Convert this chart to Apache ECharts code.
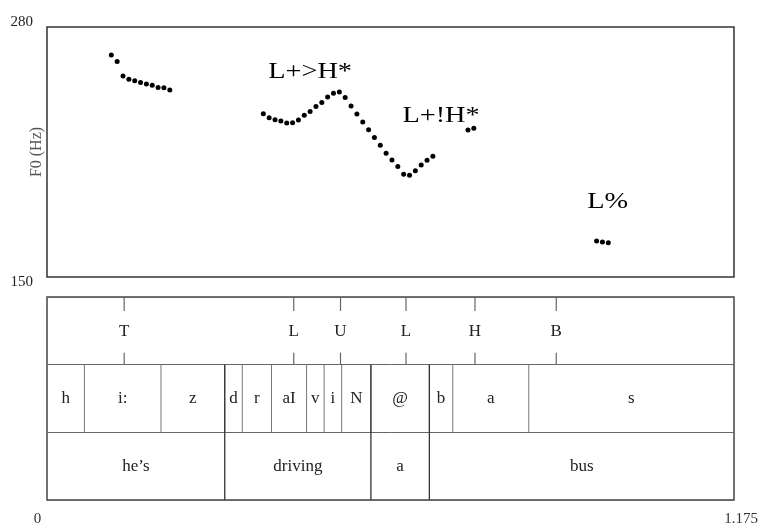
<!DOCTYPE html>
<html>
<head>
<meta charset="utf-8">
<script src="https://cdn.jsdelivr.net/npm/echarts@6/dist/echarts.min.js"></script>
<style>
  html, body { margin: 0; padding: 0; background: #fff; }
  #main { width: 760px; height: 524px; }
</style>
</head>
<body>
<div id="main"></div>
<script>
// F0 track, 10 ms frames (s / Hz)
const f0Time = [
  0.11, 0.12, 0.13, 0.14, 0.15, 0.16, 0.17, 0.18, 0.19, 0.20, 0.21,
  0.37, 0.38, 0.39, 0.40, 0.41, 0.42, 0.43, 0.44, 0.45, 0.46, 0.47, 0.48, 0.49, 0.50,
  0.51, 0.52, 0.53, 0.54, 0.55, 0.56, 0.57, 0.58, 0.59, 0.60, 0.61, 0.62, 0.63, 0.64, 0.65, 0.66,
  0.72, 0.73,
  0.94, 0.95, 0.96
];
const f0Hz = [
  265.4, 262.1, 254.5, 252.8, 252.1, 251.1, 250.4, 249.7, 248.5, 248.4, 247.2,
  234.9, 232.8, 231.8, 231.1, 230.1, 230.2, 231.6, 234.1, 236.0, 238.6, 240.8, 243.6, 245.5, 246.2,
  243.3, 238.9, 234.8, 230.6, 226.6, 222.6, 218.5, 214.3, 210.8, 207.4, 203.4, 202.9, 205.3, 208.2, 210.7, 212.8,
  226.4, 227.3,
  168.7, 168.2, 167.8
];

// pitch accent annotations
const accentLabels = ['L+>H*', 'L+!H*', 'L%'];
const accentTime = [0.45, 0.674, 0.959];
const accentHz = [256.5, 234, 189];

// tiers
const toneLabels = ['T', 'L', 'U', 'L', 'H', 'B'];
const toneTimes = [0.132, 0.422, 0.502, 0.614, 0.732, 0.871];

const phoneLabels = ['h', 'i:', 'z', 'd', 'r', 'aI', 'v', 'i', 'N', '@', 'b', 'a', 's'];
const phoneBounds = [0, 0.064, 0.195, 0.304, 0.334, 0.384, 0.444, 0.474, 0.504, 0.554, 0.654, 0.694, 0.824, 1.175];

const wordLabels = ['he’s', 'driving', 'a', 'bus'];
const wordBounds = [0, 0.304, 0.554, 0.654, 1.175];

// axis ends
const tMin = 0, tMax = 1.175;
const hzMin = 150, hzMax = 280;

const SERIF = '"Liberation Serif", "DejaVu Serif", serif';

const chart = echarts.init(document.getElementById('main'), null, { renderer: 'canvas' });

function txt(x, y, s, size, color) {
  return {
    type: 'text', x: x, y: y,
    style: { text: s, fontSize: size, fontFamily: SERIF, fill: color, align: 'center', verticalAlign: 'middle' }
  };
}

function vline(x, y1, y2, color, w) {
  return { type: 'line', shape: { x1: x, y1: y1, x2: x, y2: y2 }, style: { stroke: color, lineWidth: w } };
}

const option = {
  backgroundColor: '#ffffff',
  animation: false,
  grid: [
    { left: 47, top: 27, width: 687, height: 250, outerBoundsMode: 'none', show: true, borderColor: '#333', borderWidth: 1.5 },
    { left: 47, top: 297, width: 687, height: 203, outerBoundsMode: 'none', show: true, borderColor: '#444', borderWidth: 1.5 }
  ],
  xAxis: [
    {
      gridIndex: 0, type: 'value', min: tMin, max: tMax,
      axisLine: { show: false }, axisTick: { show: false }, axisLabel: { show: false }, splitLine: { show: false }
    },
    {
      gridIndex: 1, type: 'value', min: tMin, max: tMax, interval: tMax,
      axisLine: { show: false }, axisTick: { show: false }, splitLine: { show: false },
      axisLabel: {
        margin: 12, fontSize: 15, fontFamily: SERIF, color: '#333',
        formatter: function (v) { return v === 0 ? '{l|0}' : '{r|1.175}'; },
        rich: {
          l: { padding: [0, 19, 0, 0], fontSize: 15, fontFamily: SERIF, color: '#333' },
          r: { padding: [0, 0, 0, 14], fontSize: 15, fontFamily: SERIF, color: '#333' }
        }
      }
    }
  ],
  yAxis: [
    {
      gridIndex: 0, type: 'value', min: hzMin, max: hzMax, interval: hzMax - hzMin,
      name: 'F0 (Hz)', nameLocation: 'middle', nameGap: 2, nameMoveOverlap: false,
      nameTextStyle: { fontSize: 16, fontFamily: SERIF, color: '#555' },
      axisLine: { show: false }, axisTick: { show: false }, splitLine: { show: false },
      axisLabel: {
        margin: 14,
        formatter: function (v) { return v === hzMax ? '{t|280}' : '{b|150}'; },
        rich: {
          t: { padding: [0, 0, 10, 0], fontSize: 15, fontFamily: SERIF, color: '#222' },
          b: { padding: [10, 0, 0, 0], fontSize: 15, fontFamily: SERIF, color: '#222' }
        }
      }
    },
    {
      gridIndex: 1, type: 'value', min: 0, max: 3, interval: 1,
      axisLine: { show: false }, axisTick: { show: false }, axisLabel: { show: false },
      splitLine: { show: true, lineStyle: { color: '#666', width: 1 } }
    }
  ],
  series: [
    {
      type: 'scatter', xAxisIndex: 0, yAxisIndex: 0, silent: true,
      symbol: 'circle', symbolSize: 5,
      itemStyle: { color: '#000', opacity: 1 },
      data: f0Time.map(function (t, i) { return [t, f0Hz[i]]; })
    },
    {
      type: 'custom', xAxisIndex: 0, yAxisIndex: 0, silent: true,
      data: accentTime.map(function (t, i) { return [t, accentHz[i]]; }),
      renderItem: function (params, api) {
        const p = api.coord([api.value(0), api.value(1)]);
        const el = txt(p[0], p[1], accentLabels[params.dataIndex], 24, '#000');
        el.scaleX = 1.18;
        return el;
      }
    },
    {
      // tones tier (top row)
      type: 'custom', xAxisIndex: 1, yAxisIndex: 1, silent: true,
      data: toneTimes.map(function (t) { return [t, 2.5]; }),
      renderItem: function (params, api) {
        const top = api.coord([api.value(0), 3]);
        const bot = api.coord([api.value(0), 2]);
        return {
          type: 'group',
          children: [
            vline(top[0], top[1], top[1] + 14, '#666', 1.2),
            vline(bot[0], bot[1] - 12, bot[1], '#666', 1.2),
            txt(top[0], (top[1] + bot[1]) / 2 + 1, toneLabels[params.dataIndex], 17, '#222')
          ]
        };
      }
    },
    {
      // phones tier (middle row)
      type: 'custom', xAxisIndex: 1, yAxisIndex: 1, silent: true,
      data: phoneLabels.map(function (p, i) { return [phoneBounds[i], phoneBounds[i + 1]]; }),
      renderItem: function (params, api) {
        const a = api.coord([api.value(0), 2]);
        const b = api.coord([api.value(1), 1]);
        const kids = [txt((a[0] + b[0]) / 2, (a[1] + b[1]) / 2, phoneLabels[params.dataIndex], 17, '#222')];
        if (api.value(0) > tMin) kids.push(vline(a[0], a[1], b[1], '#777', 1));
        return { type: 'group', children: kids };
      }
    },
    {
      // words tier (bottom row)
      type: 'custom', xAxisIndex: 1, yAxisIndex: 1, silent: true,
      data: wordLabels.map(function (w, i) { return [wordBounds[i], wordBounds[i + 1]]; }),
      renderItem: function (params, api) {
        const a = api.coord([api.value(0), 1]);
        const b = api.coord([api.value(1), 0]);
        const top = api.coord([api.value(0), 2]);
        const kids = [txt((a[0] + b[0]) / 2, (a[1] + b[1]) / 2, wordLabels[params.dataIndex], 17, '#222')];
        if (api.value(0) > tMin) kids.push(vline(a[0], top[1], b[1], '#333', 1.3));
        return { type: 'group', children: kids };
      }
    }
  ]
};

chart.setOption(option);
</script>
</body>
</html>
